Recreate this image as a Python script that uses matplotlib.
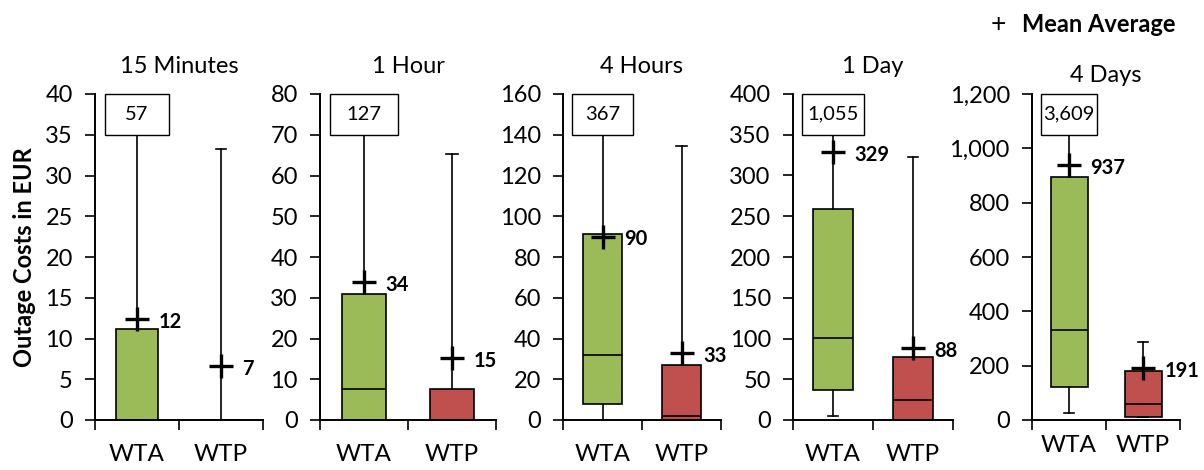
import matplotlib
matplotlib.use("Agg")
import matplotlib.pyplot as plt
import matplotlib.transforms as mtransforms
from matplotlib.patches import Rectangle
from matplotlib.ticker import FuncFormatter, MultipleLocator

plt.rcParams['font.family'] = ['Lato', 'DejaVu Sans']

periods = ["15 Minutes", "1 Hour", "4 Hours", "1 Day", "4 Days"]
groups = ["WTA", "WTP"]
y_max = [40, 80, 160, 400, 1200]
y_step = [5, 10, 20, 50, 200]

wta_min = [0, 0, 0, 5, 27]
wta_q1 = [0, 0, 8, 37, 122]
wta_med = [0, 7.5, 32, 101, 332]
wta_q3 = [11.2, 30.8, 91.5, 259, 894]
wta_max = [57, 127, 367, 1055, 3609]
wta_mean = [12.4, 33.8, 90, 329, 937]

wtp_min = [0, 0, 0, 0, 12]
wtp_q1 = [0, 0, 0, 0, 12]
wtp_med = [0, 0, 2, 25, 59]
wtp_q3 = [0, 7.5, 27, 77, 179]
wtp_max = [33.3, 65.3, 134.5, 323, 287]
wtp_mean = [6.6, 15.2, 33, 88, 191]

colors = ["#9BBB59", "#C0504D"]

W, H = 1204, 470
fig = plt.figure(figsize=(W / 100, H / 100), dpi=100)

lefts = [95, 320, 563, 793, 1032]
rights = [263, 496, 721, 953, 1180]
top_px, bot_px = 94, 420
title_pads = [15, 15, 15, 15, 9]
xlabel_pads = [12, 12, 12, 12, 6]

for i in range(5):
    ax = fig.add_axes([lefts[i] / W, 1 - bot_px / H, (rights[i] - lefts[i]) / W, (bot_px - top_px) / H])
    stats = [
        dict(whislo=wta_min[i], q1=wta_q1[i], med=wta_med[i], q3=wta_q3[i], whishi=wta_max[i], mean=wta_mean[i], fliers=[]),
        dict(whislo=wtp_min[i], q1=wtp_q1[i], med=wtp_med[i], q3=wtp_q3[i], whishi=wtp_max[i], mean=wtp_mean[i], fliers=[]),
    ]
    bp = ax.bxp(stats, positions=[0.5, 1.5], widths=0.5, patch_artist=True, showmeans=True,
                capwidths=0.13,
                boxprops=dict(edgecolor="black", linewidth=1.2),
                medianprops=dict(color="black", linewidth=1.2),
                whiskerprops=dict(color="black", linewidth=1.2),
                capprops=dict(color="black", linewidth=1.2),
                meanprops=dict(marker="+", markersize=17, markeredgewidth=2.4, markeredgecolor="black"),
                manage_ticks=False)
    for patch, c in zip(bp['boxes'], colors):
        patch.set_facecolor(c)
    for m in bp['means']:
        m.set_zorder(5)

    ax.set_xlim(0, 2)
    ax.set_ylim(0, y_max[i])
    ax.yaxis.set_major_locator(MultipleLocator(y_step[i]))
    ax.yaxis.set_major_formatter(FuncFormatter(lambda v, p: f"{int(v):,}"))
    ax.set_xticks([0, 1, 2])
    ax.set_xticklabels([])
    ax.set_xticks([0.5, 1.5], minor=True)
    ax.set_xticklabels(groups, minor=True)
    ax.tick_params(axis="x", which="major", direction="out", length=7, width=1.2)
    ax.tick_params(axis="x", which="minor", length=0, pad=xlabel_pads[i] + 5, labelsize=17.5)
    ax.tick_params(axis="y", direction="out", length=7, width=1.2, labelsize=17, pad=9)
    for s in ["top", "right"]:
        ax.spines[s].set_visible(False)
    for s in ["left", "bottom"]:
        ax.spines[s].set_linewidth(1.4)
    ax.set_title(periods[i], fontsize=17, pad=title_pads[i])

    # max value label box (whisker exceeds axis)
    trans = mtransforms.blended_transform_factory(ax.transData, ax.transAxes)
    ax.add_patch(Rectangle((0.5 - 0.385, 0.875), 0.77, 0.125, transform=trans,
                           facecolor="white", edgecolor="black", linewidth=1.0,
                           clip_on=False, zorder=6))
    ax.text(0.5, 0.9375, f"{wta_max[i]:,}", transform=trans, ha="center", va="center",
            fontsize=14.5, zorder=7)

    # mean labels
    for pos, mv in zip([0.5, 1.5], [wta_mean[i], wtp_mean[i]]):
        ax.annotate(f"{round(mv):,}", (pos, mv), xytext=(15.5, -2), textcoords="offset points",
                    ha="left", va="center", fontsize=14.5, fontweight="bold", zorder=7,
                    annotation_clip=False)

fig.text(25 / W, 1 - 257 / H, "Outage Costs in EUR", rotation=90, ha="center", va="center",
         fontsize=17, fontweight="bold")
fig.text(998 / W, 1 - 24 / H, "+", ha="center", va="center", fontsize=19)
fig.text(1176 / W, 1 - 25 / H, "Mean Average", ha="right", va="center", fontsize=17,
         fontweight="bold")

fig.savefig("out.png", dpi=100)
